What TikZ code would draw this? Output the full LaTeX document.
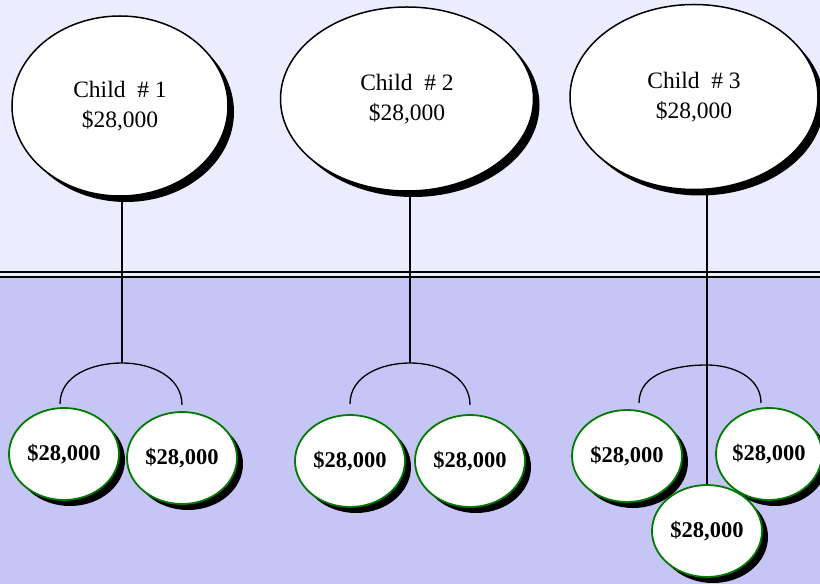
\documentclass[tikz,border=0pt]{standalone}
\usepackage{fontspec}
\setmainfont{Liberation Serif}
\usetikzlibrary{shapes.geometric,shadows,positioning}
\definecolor{skytop}{HTML}{ECECFF}
\definecolor{skybot}{HTML}{C6C6F6}
\definecolor{rimgreen}{HTML}{007A00}
\tikzset{
  parent/.style={ellipse, draw=black, line width=1.5pt, fill=white, inner sep=0pt, align=center,
    font=\fontsize{23.5}{30}\selectfont,
    drop shadow={shadow xshift=6pt, shadow yshift=-6pt, fill=black, opacity=1}},
  share/.style={ellipse, draw=rimgreen, line width=1.8pt, fill=white, inner sep=0pt,
    minimum width=110pt, minimum height=92pt,
    font=\fontsize{22.5}{26}\selectfont\bfseries,
    drop shadow={shadow xshift=6pt, shadow yshift=-6pt, fill=black, opacity=1}},
  link/.style={black, line width=1.3pt}
}
\begin{document}
\begin{tikzpicture}[x=1pt,y=1pt]
\useasboundingbox (0,0) rectangle (820,584);
% backdrop, two bands and the double rule
\fill[skytop] (0,307) rectangle (820,584);
\fill[skybot] (0,0) rectangle (820,307);
\draw[line width=2pt] (0,311.5) -- (820,311.5);
\draw[line width=2pt] (0,307.3) -- (820,307.3);
% children
\node[parent, minimum width=216pt, minimum height=180pt] (child1) at (120,478) {Child~~\# 1\\\$28,000};
\node[parent, minimum width=253pt, minimum height=184pt] (child2) at (407,485) {Child~~\# 2\\\$28,000};
\node[parent, minimum width=248pt, minimum height=185pt] (child3) at (694,487) {Child~~\# 3\\\$28,000};
% grandchildren
\node[share] (g1a) at (64,130) {\$28,000};
\node[share] (g1b) at (182,126) {\$28,000};
\node[share] (g2a) at (350,123) {\$28,000};
\node[share] (g2b) at (470,123) {\$28,000};
\node[share] (g3a) at (627,128) {\$28,000};
\node[share, minimum width=106pt] (g3b) at (769,130) {\$28,000};
\node[share] (g3c) at (707,53) {\$28,000};
% forks
\coordinate (j1) at (122,221);
\coordinate (l1) at (60,180);
\coordinate (r1) at (182,179);
\draw[link] (child1.south -| j1) -- (j1);
\draw[link] (l1) to[out=90,in=180] (j1) to[out=0,in=90] (r1);
\coordinate (j2) at (410,221);
\coordinate (l2) at (350,180);
\coordinate (r2) at (470,179);
\draw[link] (child2.south -| j2) -- (j2);
\draw[link] (l2) to[out=90,in=180] (j2) to[out=0,in=90] (r2);
\coordinate (j3) at (g3c.north |- 0,219);
\coordinate (l3) at (639,181);
\coordinate (r3) at (761,181);
\draw[link] (child3.south -| g3c.north) -- (g3c.north);
\draw[link] (l3) to[out=90,in=180] (j3) to[out=0,in=90] (r3);
\end{tikzpicture}
\end{document}
